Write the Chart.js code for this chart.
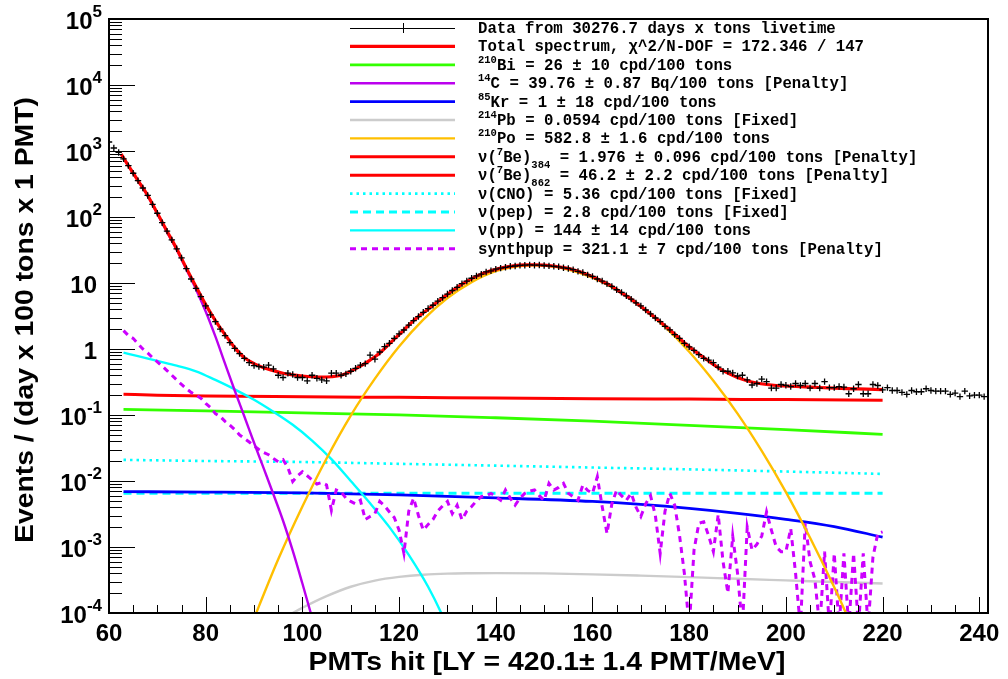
<!DOCTYPE html>
<html><head><meta charset="utf-8">
<script src="https://cdn.jsdelivr.net/npm/chart.js@4.4.1/dist/chart.umd.min.js"></script>
<style>html,body{margin:0;padding:0;background:#fff;}canvas{display:block;}</style>
</head><body>
<canvas id="c" width="1008" height="679"></canvas>
<script>
// ---------- data ----------
const dataX = [60,61,62,63,64,65,66,67,68,69,70,71,72,73,74,75,76,77,78,79,
80,81,82,83,84,85,86,87,88,89,90,91,92,93,94,95,96,97,98,99,
100,101,102,103,104,105,106,107,108,109,110,111,112,113,114,115,116,117,118,119,
120,121,122,123,124,125,126,127,128,129,130,131,132,133,134,135,136,137,138,139,
140,141,142,143,144,145,146,147,148,149,150,151,152,153,154,155,156,157,158,159,
160,161,162,163,164,165,166,167,168,169,170,171,172,173,174,175,176,177,178,179,
180,181,182,183,184,185,186,187,188,189,190,191,192,193,194,195,196,197,198,199,
200,201,202,203,204,205,206,207,208,209,210,211,212,213,214,215,216,217,218,219,
220,221,222,223,224,225,226,227,228,229,230,231,232,233,234,235,236,237,238,239,240,241];
const dataY = [1370,1110,950,760,600,460,355,275,212,155,114,82,61,45,33,24,16.5,11.5,8.3,6.2,
4.5,3.3,2.6,2.0,1.6,1.25,1.02,0.85,0.72,0.62,
0.56,0.54,0.53,0.57,0.50,0.40,0.37,0.43,0.41,0.37,
0.37,0.33,0.40,0.36,0.34,0.33,0.43,0.43,0.40,0.42,
0.46,0.51,0.57,0.60,0.81,0.70,0.90,1.09,1.22,1.45,
1.70,1.94,2.3,2.7,3.1,3.6,4.1,4.6,5.3,6.0,
6.8,7.7,8.6,9.8,10.7,11.8,12.8,13.6,14.7,15.3,
16.2,16.8,17.3,17.9,18.1,18.5,18.6,18.8,18.6,18.7,
18.4,18.2,17.9,17.6,17.0,16.6,15.9,15.0,14.4,13.3,
12.6,11.5,10.7,9.7,8.9,7.9,7.2,6.4,5.7,5.0,
4.5,3.9,3.4,2.95,2.6,2.2,1.95,1.65,1.45,1.22,
1.08,0.95,0.82,0.72,0.68,0.62,0.53,0.46,0.46,0.435,
0.39,0.40,0.34,0.285,0.30,0.35,0.32,0.256,0.256,0.29,
0.282,0.27,0.30,0.28,0.30,0.256,0.30,0.256,0.32,0.26,
0.26,0.27,0.265,0.21,0.25,0.29,0.21,0.21,0.29,0.28,
0.24,0.26,0.235,0.235,0.22,0.205,0.235,0.225,0.225,0.25,
0.235,0.23,0.23,0.23,0.205,0.215,0.19,0.23,0.195,0.2,
0.2,0.19];

const totalX = [62.5,64,66,68,70,72,74,76,78,80,82,84,86,88,90,92,94,96,98,100,102,104,106,108,110,112,114,116,118,120,122,124,126,128,130,132,134,136,138,140,142,144,146,148,150,152,154,156,158,160,162,164,166,168,170,172,174,176,178,180,182,184,186,188,190,192,194,196,198,200,205,210,215,220];
const totalY = [900,602,357,212,114,61,33,16.8,8.8,4.7,2.7,1.65,1.05,0.74,0.6,0.52,0.47,0.43,0.405,0.39,0.38,0.375,0.38,0.4,0.46,0.55,0.68,0.87,1.2,1.65,2.3,3.1,4.0,5.2,6.7,8.6,10.6,12.6,14.5,16.1,17.4,18.3,18.8,18.9,18.7,18.1,17.1,15.9,14.3,12.5,10.6,8.9,7.1,5.7,4.4,3.4,2.6,1.95,1.45,1.08,0.84,0.66,0.52,0.43,0.37,0.33,0.305,0.29,0.28,0.275,0.265,0.255,0.248,0.242];

const biX = [63,80,100,120,140,160,180,200,220];
const biY = [0.122,0.1153,0.1076,0.1007,0.0908,0.0805,0.0698,0.060,0.051];

const c14X = [62.5,64,66,68,70,72,74,76,78,80,82,84,86,88,90,92,94,96,98,100,102,104];
const c14Y = [890,600,355,210,112,59,32,16,8.0,3.7,1.55,0.6,0.235,0.095,0.038,0.0155,0.0063,0.0025,0.00088,0.00028,0.000085,0.000025];

const krX = [63,80,100,120,140,160,170,180,190,200,210,220];
const krY = [0.0069,0.0068,0.0066,0.00617,0.00556,0.0049,0.00442,0.00385,0.00324,0.00263,0.00204,0.00141];

const pbX = [90,94,96,98,100,105,110,115,120,125,130,135,140,150,160,170,180,190,200,210,220];
const pbY = [0.00004,0.000065,0.00008,0.0001,0.00012,0.00018,0.00025,0.00031,0.000352,0.00038,0.000395,0.0004,0.000402,0.000398,0.000385,0.000368,0.00035,0.00033,0.000312,0.000295,0.00028];

const poX = [90,91,95,100,105,110,115,120,125,130,135,140,145,148,150,155,160,165,170,175,180,185,190,195,200,205,210,213,215];
const poY = [0.000083,0.000126,0.00065,0.0041,0.0219,0.098,0.355,1.09,2.78,5.9,10.3,15.1,18.0,18.5,18.3,16.0,12.1,7.9,4.4,2.16,0.91,0.33,0.105,0.0286,0.0068,0.00138,0.000245,0.00008,0.000037];

const be384X = [];
const be384Y = [];

const be862X = [63,70,80,100,120,140,160,180,200,220];
const be862Y = [0.206,0.200,0.194,0.189,0.185,0.181,0.177,0.174,0.171,0.168];

const cnoX = [63,80,100,120,140,160,180,200,220];
const cnoY = [0.0209,0.0201,0.0194,0.0182,0.0171,0.016,0.0150,0.0139,0.0128];

const pepX = [63,100,140,180,220];
const pepY = [0.0065,0.0065,0.0065,0.0065,0.0065];

const ppX = [63,66,70,74,78,82,86,90,94,98,102,106,110,114,118,122,126,129,131];
const ppY = [0.88,0.78,0.66,0.56,0.46,0.34,0.245,0.17,0.112,0.071,0.041,0.0214,0.010,0.0046,0.002,0.00076,0.00025,0.00009,0.00004];

const synthX = [63,64,65,66,67,68,69,70,71,72,73,74,75,76,77,78,79,80,81,82,83,84,85,86,87,88,89,90,91,92,
93,94,95,96,97,98,99,100,101,102,103,104,105,106,107,108,109,110,111,112,113,114,115,116,117,118,119,120,121,122,
123,124,125,126,127,128,129,130,131,132,133,134,135,136,137,138,139,140,141,142,143,144,145,146,147,148,149,150,151,152,
153,154,155,156,157,158,159,160,161,162,163,164,165,166,167,168,169,170,171,172,173,174,175,176,177,178,179,180,181,182,
183,184,185,186,187,188,189,190,191,192,193,194,195,196,197,198,199,200,201,202,203,204,205,206,207,208,209,210,211,212,
213,214,215,216,217,218,219,220];
const synthY = [1.9,1.6,1.45,1.2,1.0,0.87,0.74,0.64,0.55,0.47,
0.40,0.34,0.29,0.25,0.22,0.20,0.18,0.15,0.13,0.105,
0.095,0.08,0.07,0.06,0.05,0.044,0.039,0.034,0.03,0.027,
0.025,0.022,0.0195,0.021,0.016,0.0098,0.012,0.0138,0.012,0.0104,
0.009,0.0095,0.0087,0.0036,0.0073,0.0068,0.0055,0.0049,0.0045,0.0051,
0.0026,0.0029,0.0032,0.0049,0.0042,0.0034,0.0028,0.0018,0.0008,0.0035,
0.0055,0.0030,0.0018,0.0022,0.0026,0.0035,0.0042,0.0049,0.0032,0.0043,
0.0026,0.0035,0.0041,0.0050,0.0058,0.0060,0.0065,0.0058,0.0051,0.0073,
0.0055,0.0043,0.0055,0.0065,0.0070,0.0073,0.0060,0.0051,0.0092,0.0073,
0.0080,0.0092,0.0065,0.0058,0.0051,0.0087,0.0072,0.0065,0.0116,0.0041,
0.0016,0.0045,0.0073,0.0060,0.0051,0.0065,0.0040,0.0029,0.0045,0.0060,
0.0030,0.0008,0.0035,0.0065,0.0043,0.0015,0.0004,0.00006,0.0009,0.0023,
0.0024,0.0015,0.00085,0.0031,0.0006,0.0002,0.00146,0.0004,0.00006,0.002,
0.0009,0.0011,0.00146,0.0034,0.0018,0.001,0.00085,0.00085,0.0019,0.0004,
0.00006,0.0023,0.0006,0.00032,0.00006,0.00085,0.00006,0.0008,0.00006,0.0008,
0.00006,0.0008,0.00006,0.0008,0.00006,0.0007,0.0016,0.0017];

// ---------- axes / text ----------
const xTickLabels = [60,80,100,120,140,160,180,200,220,240];
const xMinorStep = 5;
const yDecadeExponents = [-4,-3,-2,-1,0,1,2,3,4,5];
const xTitle = 'PMTs hit [LY = 420.1\u00b1 1.4 PMT/MeV]';
const yTitle = 'Events / (day x 100 tons x 1 PMT)';
const legendLabels = [
  [['Data from 30276.7 days x tons livetime','n']],
  [['Total spectrum, \u03c7^2/N-DOF = 172.346 / 147','n']],
  [['210','sup'],['Bi = 26 \u00b1 10 cpd/100 tons','n']],
  [['14','sup'],['C = 39.76 \u00b1 0.87 Bq/100 tons [Penalty]','n']],
  [['85','sup'],['Kr = 1 \u00b1 18 cpd/100 tons','n']],
  [['214','sup'],['Pb = 0.0594 cpd/100 tons [Fixed]','n']],
  [['210','sup'],['Po = 582.8 \u00b1 1.6 cpd/100 tons','n']],
  [['\u03bd(','n'],['7','sup'],['Be)','n'],['384','sub'],[' = 1.976 \u00b1 0.096 cpd/100 tons [Penalty]','n']],
  [['\u03bd(','n'],['7','sup'],['Be)','n'],['862','sub'],[' = 46.2 \u00b1 2.2 cpd/100 tons [Penalty]','n']],
  [['\u03bd(CNO) = 5.36 cpd/100 tons [Fixed]','n']],
  [['\u03bd(pep) = 2.8 cpd/100 tons [Fixed]','n']],
  [['\u03bd(pp) = 144 \u00b1 14 cpd/100 tons','n']],
  [['synthpup = 321.1 \u00b1 7 cpd/100 tons [Penalty]','n']]
];

const pts = (xs, ys) => xs.map((x, i) => ({x: x, y: ys[i]}));
const curve = (xs, ys, color, width, dash, order, smooth) => ({
  data: pts(xs, ys), showLine: true, borderColor: color, backgroundColor: color,
  borderWidth: width, borderDash: dash || [], pointRadius: 0, pointHoverRadius: 0,
  cubicInterpolationMode: smooth ? 'monotone' : 'default', tension: 0, order: order
});

const datasets = [
  {data: pts(dataX, dataY), showLine: false, pointStyle: 'cross', pointRadius: 3.2,
   borderColor: '#000', backgroundColor: '#000', borderWidth: 1.3, order: 0},
  curve(totalX, totalY, '#ff0000', 3.2, null, 1, true),
  curve(biX, biY, '#33ff00', 2.8, null, 10, true),
  curve(c14X, c14Y, '#bb00ee', 2.4, null, 2, true),
  curve(krX, krY, '#0000ff', 2.8, null, 6, true),
  curve(pbX, pbY, '#cccccc', 2.4, null, 11, true),
  curve(poX, poY, '#ffbf00', 2.4, null, 3, true),
  curve(be384X, be384Y, '#ff0000', 3, null, 12, true),
  curve(be862X, be862Y, '#ff0000', 3, null, 9, true),
  curve(cnoX, cnoY, '#00ffff', 2.6, [2.5, 4], 8, true),
  curve(pepX, pepY, '#00ffff', 3, [8, 5], 7, true),
  curve(ppX, ppY, '#00ffff', 2.4, null, 5, true),
  curve(synthX, synthY, '#cc00ff', 3, [6, 5], 4, false)
];

const FONT = '"Liberation Sans", Arial, Helvetica, sans-serif';
const MONO = '"Liberation Mono", "Courier New", monospace';

function drawFitted(ctx, text, cx, baseY, size, targetW, rotate) {
  ctx.save();
  ctx.font = 'bold ' + size + 'px ' + FONT;
  const w = ctx.measureText(text).width;
  const sx = targetW / w;
  ctx.translate(cx, baseY);
  if (rotate) ctx.rotate(-Math.PI / 2);
  ctx.scale(sx, 1);
  ctx.textAlign = 'center'; ctx.textBaseline = 'alphabetic';
  ctx.fillStyle = '#000';
  ctx.fillText(text, 0, 0);
  ctx.restore();
}

const rootStyle = {
  id: 'rootStyle',
  beforeDraw(chart) {
    const ctx = chart.ctx;
    ctx.save(); ctx.fillStyle = '#fff'; ctx.fillRect(0, 0, chart.width, chart.height); ctx.restore();
  },
  afterDraw(chart) {
    const ctx = chart.ctx, a = chart.chartArea, xs = chart.scales.x, ys = chart.scales.y;
    ctx.save();
    ctx.strokeStyle = '#000'; ctx.lineWidth = 1;
    ctx.beginPath();
    for (let v = xTickLabels[0]; v <= xTickLabels[xTickLabels.length - 1]; v += xMinorStep) {
      const px = Math.round(xs.getPixelForValue(v)) + 0.5;
      const len = xTickLabels.includes(v) ? 16 : 8;
      ctx.moveTo(px, a.bottom); ctx.lineTo(px, a.bottom - len);
    }
    yDecadeExponents.forEach(e => {
      for (let m = 1; m <= 9; m++) {
        const v = m * Math.pow(10, e);
        if (v > ys.max * 1.0001) break;
        const py = Math.round(ys.getPixelForValue(v)) + 0.5;
        ctx.moveTo(a.left, py); ctx.lineTo(a.left + (m === 1 ? 26 : 13), py);
      }
    });
    ctx.stroke();
    ctx.lineWidth = 2;
    ctx.strokeRect(a.left, a.top, a.right - a.left, a.bottom - a.top);

    // y tick labels
    ctx.fillStyle = '#000'; ctx.textAlign = 'left'; ctx.textBaseline = 'alphabetic';
    const bf = 'bold 24px ' + FONT, sf = 'bold 17px ' + FONT;
    const R = 102;
    yDecadeExponents.forEach(e => {
      const py = ys.getPixelForValue(Math.pow(10, e));
      if (e === 0 || e === 1) {
        const t = e === 0 ? '1' : '10';
        ctx.font = bf; const w = ctx.measureText(t).width;
        ctx.fillText(t, R - 5 - w, py + 10);
      } else {
        const s = String(e);
        ctx.font = sf; const ws = ctx.measureText(s).width;
        ctx.font = bf; const wb = ctx.measureText('10').width;
        const x0 = R - ws - wb;
        ctx.fillText('10', x0, py + 10);
        ctx.font = sf; ctx.fillText(s, x0 + wb, py - 2);
      }
    });
    // x tick labels
    ctx.font = bf; ctx.textAlign = 'center';
    xTickLabels.forEach(v => {
      ctx.fillText(String(v), xs.getPixelForValue(v), a.bottom + 28);
    });
    // axis titles
    drawFitted(ctx, xTitle, 547, 670, 26, 477, false);
    drawFitted(ctx, yTitle, 33, 320, 26, 446, true);

    // legend
    const rowY0 = 28, rowH = 18.4, lx0 = 350, lx1 = 455, tx = 478;
    legendLabels.forEach((segs, i) => {
      const y = rowY0 + rowH * i;
      const ds = chart.data.datasets[i];
      ctx.save();
      if (i === 0) {
        ctx.strokeStyle = '#000'; ctx.lineWidth = 1;
        ctx.beginPath(); ctx.moveTo(lx0, Math.round(y) + 0.5); ctx.lineTo(lx1, Math.round(y) + 0.5);
        const mx = Math.round((lx0 + lx1) / 2) + 0.5;
        ctx.moveTo(mx, y - 5); ctx.lineTo(mx, y + 5); ctx.stroke();
      } else {
        ctx.strokeStyle = ds.borderColor; ctx.lineWidth = ds.borderWidth;
        ctx.setLineDash(ds.borderDash || []);
        ctx.beginPath(); ctx.moveTo(lx0, y); ctx.lineTo(lx1, y); ctx.stroke();
      }
      ctx.restore();
      let x = tx;
      ctx.textAlign = 'left'; ctx.textBaseline = 'alphabetic'; ctx.fillStyle = '#000';
      segs.forEach(([t, kind]) => {
        if (kind === 'n') {
          ctx.font = 'bold 15.7px ' + MONO; ctx.fillText(t, x, y + 5);
        } else if (kind === 'sup') {
          ctx.font = 'bold 10.5px ' + MONO; ctx.fillText(t, x, y - 2);
        } else {
          ctx.font = 'bold 10.5px ' + MONO; ctx.fillText(t, x, y + 11);
        }
        x += ctx.measureText(t).width;
      });
    });
    ctx.restore();
  }
};

new Chart(document.getElementById('c'), {
  type: 'scatter',
  data: {datasets: datasets},
  options: {
    responsive: false, devicePixelRatio: 1, animation: false,
    layout: {padding: {left: 109, top: 19, right: 20, bottom: 66}},
    plugins: {legend: {display: false}, tooltip: {enabled: false}},
    scales: {
      x: {type: 'linear', min: 60, max: 241.8, display: false},
      y: {type: 'logarithmic', min: 1e-4, max: 1e5, display: false}
    }
  },
  plugins: [rootStyle]
});
</script>
</body></html>
